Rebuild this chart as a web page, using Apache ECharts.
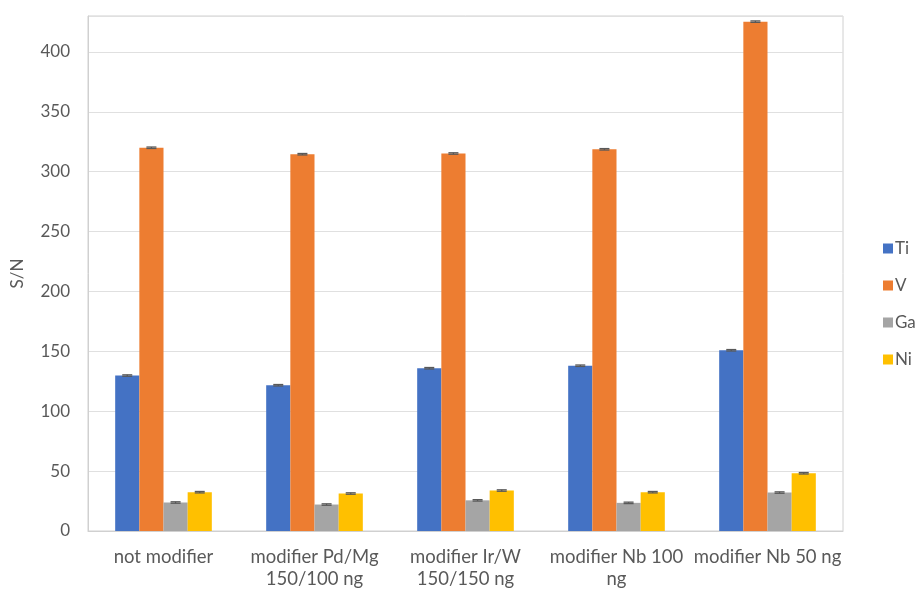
<!DOCTYPE html>
<html>
<head>
<meta charset="utf-8">
<script src="https://cdn.jsdelivr.net/npm/echarts@6/dist/echarts.min.js"></script>
<style>html,body{margin:0;padding:0;background:#fff}#c{width:918px;height:592px}</style>
</head>
<body>
<div id="c"></div>
<script>
var categories = ['not modifier', 'modifier Pd/Mg\n150/100 ng', 'modifier Ir/W\n150/150 ng', 'modifier Nb 100\nng', 'modifier Nb 50 ng'];
var seriesNames = ['Ti', 'V', 'Ga', 'Ni'];
var tiValues = [129.8, 121.7, 135.9, 138.0, 150.9];
var vValues = [320.0, 314.6, 315.2, 318.7, 425.3];
var gaValues = [23.8, 22.1, 25.6, 23.5, 32.1];
var niValues = [32.4, 31.3, 33.8, 32.4, 48.2];
var tiErr = [0.6, 0.6, 0.6, 0.6, 0.6];
var vErr = [0.6, 0.6, 0.6, 0.6, 0.6];
var gaErr = [0.6, 0.6, 0.6, 0.6, 0.6];
var niErr = [0.6, 0.6, 0.6, 0.6, 0.6];
var yTicks = [0, 50, 100, 150, 200, 250, 300, 350, 400];

var allValues = [tiValues, vValues, gaValues, niValues];
var allErr = [tiErr, vErr, gaErr, niErr];
var colors = ['#4472C4', '#ED7D31', '#A5A5A5', '#FFC000'];
var FONT = 'Lato';
var catGap = 0.36;

var series = [];
seriesNames.forEach(function (name, k) {
  series.push({
    name: name,
    type: 'bar',
    data: allValues[k],
    barGap: '0%',
    barCategoryGap: (catGap * 100) + '%',
    itemStyle: { color: colors[k] },
    emphasis: { disabled: true }
  });
});
seriesNames.forEach(function (name, k) {
  var errData = allValues[k].map(function (v, i) { return [i, v, allErr[k][i]]; });
  series.push({
    type: 'custom',
    name: name + ' err',
    silent: true,
    z: 10,
    data: errData,
    renderItem: function (params, api) {
      var i = api.value(0), v = api.value(1), e = api.value(2);
      var catW = api.size([1, 0])[0];
      var bw = catW * (1 - catGap) / 4;
      var off = (k - 1.5) * bw;
      var top = api.coord([i, v + e]);
      var bot = api.coord([i, v - e]);
      var x = top[0] + off;
      var cap = 5;
      var st = { stroke: '#595959', lineWidth: 1.3 };
      return {
        type: 'group',
        children: [
          { type: 'line', shape: { x1: x, y1: top[1], x2: x, y2: bot[1] }, style: st },
          { type: 'line', shape: { x1: x - cap, y1: top[1], x2: x + cap, y2: top[1] }, style: st },
          { type: 'line', shape: { x1: x - cap, y1: bot[1], x2: x + cap, y2: bot[1] }, style: st }
        ]
      };
    }
  });
});

var chart = echarts.init(document.getElementById('c'), null, { renderer: 'canvas' });
chart.setOption({
  animation: false,
  textStyle: { fontFamily: FONT },
  grid: { left: 88, right: 75, top: 16, bottom: 61, show: true, borderColor: '#d0d0d0', borderWidth: 1, containLabel: false },
  legend: {
    orient: 'vertical',
    left: 878,
    top: 235,
    itemWidth: 10,
    itemHeight: 10,
    itemGap: 20,
    icon: 'rect',
    data: seriesNames,
    textStyle: { color: '#595959', fontSize: 17, fontFamily: FONT, padding: [0, 0, 0, -3] }
  },
  xAxis: {
    type: 'category',
    data: categories,
    axisLine: { show: true, lineStyle: { color: '#d0d0d0', width: 1 } },
    axisTick: { show: false },
    axisLabel: { color: '#595959', fontSize: 18.5, fontFamily: FONT, margin: 15, lineHeight: 22, interval: 0 },
    splitLine: { show: false }
  },
  yAxis: {
    type: 'value',
    min: 0,
    max: 430,
    interval: 50,
    name: 'S/N',
    nameLocation: 'middle',
    nameGap: 62,
    nameTextStyle: { color: '#595959', fontSize: 17, fontFamily: FONT },
    axisLine: { show: true, lineStyle: { color: '#d0d0d0', width: 1 } },
    axisTick: { show: false },
    axisLabel: {
      color: '#595959', fontSize: 17, fontFamily: FONT, margin: 18, showMaxLabel: false,
      formatter: function (v) { return yTicks.indexOf(v) >= 0 ? String(v) : ''; }
    },
    splitLine: { show: true, lineStyle: { color: '#e0e0e0', width: 1.2 } }
  },
  series: series
});
</script>
</body>
</html>
